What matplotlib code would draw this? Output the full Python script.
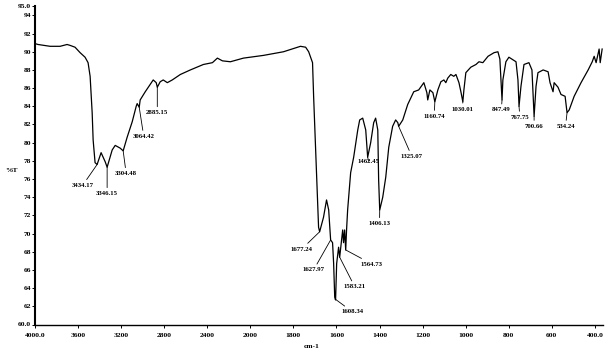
import numpy as np
import matplotlib
matplotlib.use("Agg")
import matplotlib.pyplot as plt

# IR spectrum (wavenumber cm-1, %T)
wavenumber = [4000, 3972, 3860, 3767, 3702, 3674, 3628, 3581, 3535, 3507,
              3488, 3469, 3460, 3442, 3423, 3386, 3348, 3330, 3283, 3255,
              3209, 3181, 3144, 3097, 3060, 3051, 3032, 3023, 2976, 2930,
              2902, 2874, 2864, 2837, 2809, 2771, 2725, 2650, 2557, 2436,
              2352, 2306, 2259, 2185, 2064, 1939, 1846, 1767, 1743, 1729,
              1711, 1706, 1697, 1688, 1683, 1678, 1660, 1646, 1636, 1627,
              1618, 1613, 1608, 1604, 1599, 1590, 1585, 1576, 1571, 1567,
              1562, 1557, 1553, 1548, 1534, 1520, 1501, 1492, 1478, 1464,
              1455, 1441, 1427, 1418, 1408, 1404, 1399, 1385, 1371, 1357,
              1339, 1325, 1315, 1311, 1292, 1269, 1241, 1218, 1194, 1180,
              1176, 1166, 1152, 1143, 1129, 1115, 1101, 1092, 1083, 1069,
              1055, 1045, 1031, 1022, 1013, 1008, 999, 976, 952, 938,
              920, 896, 868, 850, 841, 831, 827, 813, 799, 766,
              757, 752, 743, 729, 706, 692, 682, 673, 664, 640,
              617, 608, 594, 589, 571, 557, 538, 529, 519, 496,
              464, 431, 412, 403, 394, 384, 380, 375, 366]
transmittance = [90.9, 90.8, 90.6, 90.6, 90.8, 90.7, 90.5, 89.9, 89.4, 88.8,
                 87.3, 83.3, 80.3, 77.8, 77.6, 78.9, 77.9, 77.3, 79.2, 79.7,
                 79.4, 79.1, 80.6, 82.3, 84.0, 84.3, 83.9, 84.7, 85.6, 86.4,
                 86.9, 86.6, 86.1, 86.7, 86.9, 86.6, 86.9, 87.5, 88.0, 88.6,
                 88.8, 89.3, 89.0, 88.9, 89.3, 89.6, 90.0, 90.6, 90.5, 90.0,
                 88.8, 85.1, 79.5, 74.0, 70.7, 70.2, 71.8, 73.7, 72.6, 69.3,
                 69.0, 66.7, 63.0, 62.7, 66.7, 68.5, 67.4, 69.3, 70.4, 69.0,
                 70.4, 68.2, 70.4, 72.6, 76.7, 78.4, 81.4, 82.5, 82.7, 81.4,
                 78.4, 80.0, 82.2, 82.7, 81.4, 75.9, 72.6, 74.0, 76.2, 79.5,
                 81.8, 82.5, 82.2, 81.8, 82.5, 84.2, 85.6, 85.8, 86.6, 85.5,
                 84.7, 85.8, 85.5, 84.5, 85.8, 86.7, 86.9, 86.6, 87.1, 87.5,
                 87.3, 87.5, 86.6, 85.6, 84.5, 85.8, 87.7, 88.3, 88.6, 88.9,
                 88.8, 89.5, 89.9, 90.0, 89.2, 84.7, 86.9, 88.9, 89.4, 88.9,
                 86.9, 84.0, 86.2, 88.6, 88.8, 88.0, 82.9, 86.2, 87.7, 88.0,
                 87.8, 86.6, 85.6, 86.6, 86.1, 85.3, 85.1, 83.3, 83.6, 85.1,
                 86.6, 88.0, 88.9, 89.5, 88.8, 89.9, 90.3, 88.8, 90.3]

# peak labels: text, peak (wn, %T), label centre (wn, %T)
peak_labels = ["3434.17", "3346.15", "3304.48", "3064.42", "2885.15",
               "1677.24", "1627.97", "1608.34", "1583.21", "1564.73",
               "1462.45", "1406.13", "1325.07", "1160.74", "1030.01",
               "847.49", "767.75", "700.66", "534.24"]
peak_at = [(3423, 77.6), (3330, 77.3), (3181, 79.1), (3032, 83.9), (2864, 86.1),
           (1678, 70.2), (1627, 69.3), (1606, 62.8), (1585, 67.4), (1557, 68.2),
           (1455, 78.4), (1399, 72.6), (1311, 81.8), (1143, 84.5), (1013, 84.5),
           (831, 84.7), (752, 84.0), (682, 82.9), (529, 83.3)]
label_at = [(3558, 75.3), (3330, 74.4), (3153, 76.6), (2990, 80.7), (2864, 83.3),
            (1761, 68.3), (1706, 66.0), (1526, 61.4), (1515, 64.15), (1435, 66.65),
            (1450, 77.9), (1400, 71.1), (1250, 78.5), (1146, 82.9), (1014, 83.7),
            (834, 83.6), (748, 82.8), (682, 81.8), (536, 81.8)]

x_ticks = [4000, 3600, 3200, 2800, 2400, 2000, 1800, 1600, 1400, 1200, 1000, 800, 600, 400]
x_ticklabels = ["4000.0", "3600", "3200", "2800", "2400", "2000", "1800", "1600",
                "1400", "1200", "1000", "800", "600", "400.0"]
y_ticks = [60, 62, 64, 66, 68, 70, 72, 74, 76, 78, 80, 82, 84, 86, 88, 90, 92, 94, 95]
y_ticklabels = ["60.0"] + [str(v) for v in y_ticks[1:-1]] + ["95.0"]


def fwd(x):
    x = np.asarray(x, dtype=float)
    return np.where(x > 2000, 2000 + (x - 2000) / 2.0, x)


def inv(u):
    u = np.asarray(u, dtype=float)
    return np.where(u > 2000, 2000 + (u - 2000) * 2.0, u)


plt.rcParams['font.family'] = ['Liberation Serif', 'DejaVu Serif']
plt.rcParams['font.weight'] = 'bold'

fig = plt.figure(figsize=(6.09, 3.49), dpi=100)
ax = fig.add_axes([35 / 609, 1 - 324.5 / 349, (603 - 35) / 609, (324.5 - 6.3) / 349])
ax.set_xscale('function', functions=(fwd, inv))

ax.plot(wavenumber, transmittance, color='black', lw=0.9)

for txt, p, t in zip(peak_labels, peak_at, label_at):
    ax.annotate(txt, xy=p, xytext=t, ha='center', va='center', fontsize=4.9,
                fontweight='bold',
                arrowprops=dict(arrowstyle='-', lw=0.6, color='black',
                                shrinkA=0.5, shrinkB=0))

ax.set_xlim(4000, 362)
ax.set_ylim(60, 95)
ax.set_xticks(x_ticks)
ax.set_xticklabels(x_ticklabels)
ax.set_yticks(y_ticks)
ax.set_yticklabels(y_ticklabels)
ax.tick_params(axis='both', labelsize=5.4, length=2, width=0.7, direction='out')
ax.tick_params(axis='x', pad=4)
ax.tick_params(axis='y', pad=1)
ax.minorticks_off()

for s in ['top', 'right']:
    ax.spines[s].set_visible(False)
ax.spines['left'].set_linewidth(1.5)
ax.spines['bottom'].set_linewidth(1.0)

fig.text(11 / 609, 1 - 171 / 349, '%T', fontsize=5.4, fontweight='bold',
         ha='center', va='center')
fig.text(312 / 609, 1 - 346 / 349, 'cm-1', fontsize=5.4, fontweight='bold',
         ha='center', va='center')

fig.savefig('out.png', dpi=100, facecolor='white')
